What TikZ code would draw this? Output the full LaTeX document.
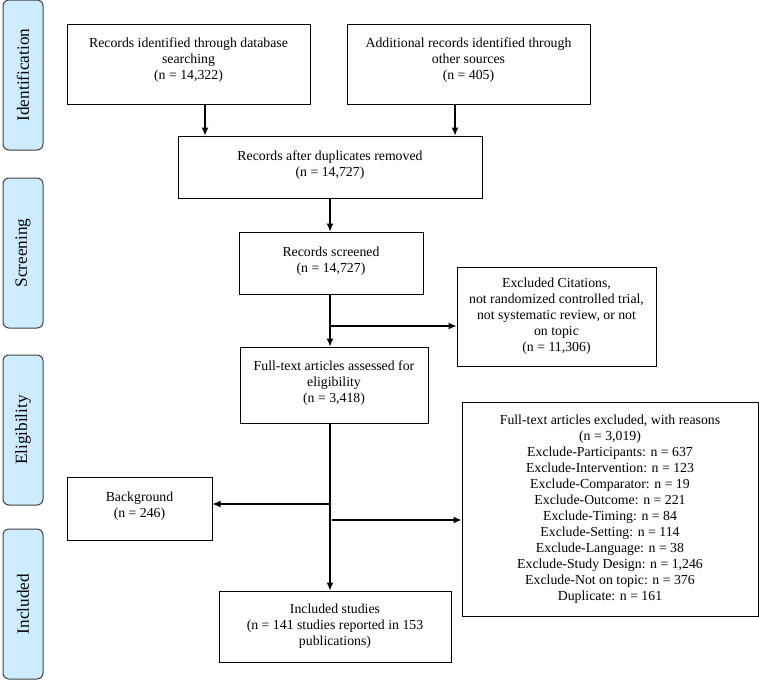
\documentclass[tikz,border=0pt]{standalone}
\usepackage{fontspec}
\setmainfont{Liberation Serif}
\usetikzlibrary{arrows.meta}
\definecolor{barblue}{RGB}{206,236,255}
\tikzset{box/.style={draw,thick,line width=1pt,align=center,inner sep=2pt,font=\fontsize{13.8}{16}\selectfont},
         phase/.style={draw=black!75,fill=barblue,line width=1pt,rounded corners=6pt,rotate=90,
                       minimum width=150pt,minimum height=40pt,font=\fontsize{17.2}{20}\selectfont},
         arr/.style={line width=1.2pt,-{Latex[length=8pt,width=7pt]}}
}
\begin{document}
\begin{tikzpicture}[x=1pt,y=-1pt]
  \useasboundingbox (0,0) rectangle (759,680);
  % phase bars on the left
  \foreach\name/\txt/\yc in {idbar/Identification/75,scrbar/Screening/253,elibar/Eligibility/430,incbar/Included/604}
     \node[phase](\name) at (23,\yc){\txt};
  % boxes
  \node[box,minimum width=243pt,minimum height=80pt](db) at (188.5,64)
       {Records identified through database\\searching\\(n = 14,322)\\[-6pt]};
  \node[box,minimum width=243pt,minimum height=80pt](other) at (468.5,64)
       {Additional records identified through\\other sources\\(n = 405)\\[-6pt]};
  \node[box,minimum width=304pt,minimum height=62pt](dup) at (330,167)
       {Records after duplicates removed\\(n = 14,727)\\[-9pt]};
  \node[box,minimum width=184pt,minimum height=62pt](screened) at (331,263)
       {Records screened\\(n = 14,727)\\[-9pt]};
  \node[box,minimum width=199pt,minimum height=99pt](excl) at (556.5,316.5)
       {Excluded Citations,\\not randomized controlled trial,\\not systematic review, or not\\on topic\\(n = 11,306)};
  \node[box,minimum width=188pt,minimum height=76pt](full) at (334,385)
       {Full-text articles assessed for\\eligibility\\(n = 3,418)\\[-10pt]};
  \node[box,minimum width=145pt,minimum height=63pt](bg) at (139.5,508.5)
       {Background\\(n = 246)\\[-9pt]};
  \node[box,minimum width=296pt,minimum height=214pt](ftex) at (610,509)
       {Full-text articles excluded, with reasons\\(n = 3,019)\\Exclude-Participants: n = 637\\
        Exclude-Intervention: n = 123\\Exclude-Comparator: n = 19\\Exclude-Outcome: n = 221\\
        Exclude-Timing: n = 84\\Exclude-Setting: n = 114\\Exclude-Language: n = 38\\
        Exclude-Study Design: n = 1,246\\Exclude-Not on topic: n = 376\\Duplicate: n = 161};
  \node[box,minimum width=232pt,minimum height=71pt](incl) at (335,626.5)
       {Included studies\\(n = 141 studies reported in 153\\publications)};
  % connectors
  \coordinate(s1) at (330,326);
  \coordinate(s2) at (330,504);
  \coordinate(s3) at (332,520);
  \draw[arr]([xshift=16.5pt]db.south) -- ([xshift=16.5pt]db.south |- dup.north);
  \draw[arr]([xshift=-13.5pt]other.south) -- ([xshift=-13.5pt]other.south |- dup.north);
  \draw[arr](dup.south) -- (dup.south |- screened.north);
  \draw[arr](dup.south |- screened.south) -- (dup.south |- full.north);
  \draw[arr](dup.south |- full.south) -- (dup.south |- incl.north);
  \draw[arr](s1) -- (s1 -| excl.west);
  \draw[arr](s2) -- (s2 -| bg.east);
  \draw[arr](s3) -- (s3 -| ftex.west);
\end{tikzpicture}
\end{document}
